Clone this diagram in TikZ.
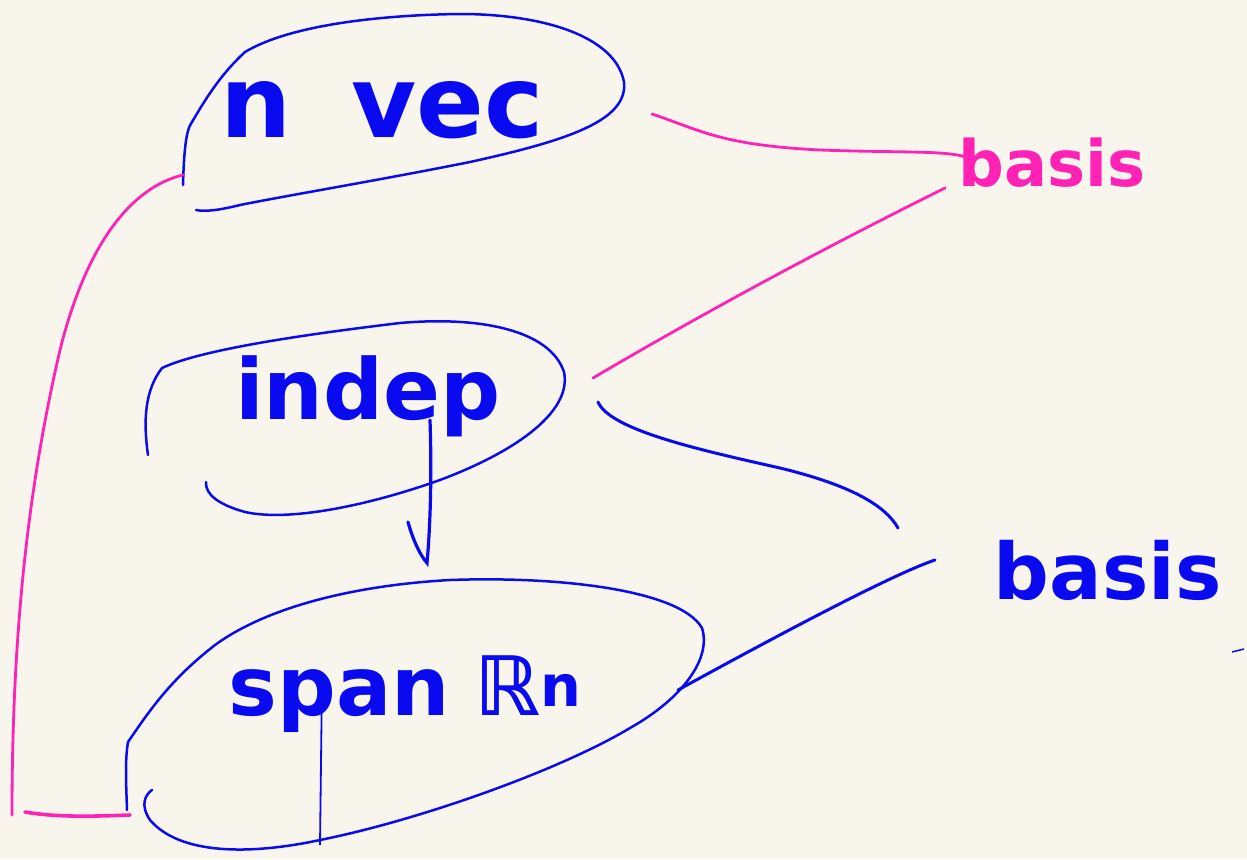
\documentclass[tikz,border=0pt]{standalone}
\usepackage{fontspec}
\setmainfont{DejaVu Sans}
\definecolor{paper}{HTML}{F8F6EC}
\definecolor{ink}{HTML}{0A0AF0}
\definecolor{pinkink}{HTML}{FF22B4}
\begin{document}
\begin{tikzpicture}[x=1pt,y=-1pt,
  loop/.style={draw=ink,line width=2.5pt,line cap=round,line join=round},
  bluelink/.style={draw=ink,line width=3pt,line cap=round},
  pinklink/.style={draw=pinkink,line width=2.8pt,line cap=round},
  word/.style={text=ink,font=\bfseries,inner sep=0pt,anchor=center},
  pinkword/.style={text=pinkink,font=\bfseries,inner sep=0pt,anchor=center}]
\fill[paper] (0,0) rectangle (1247,859);
\useasboundingbox (0,0) rectangle (1247,859);

% labels
\node[word,font=\bfseries\fontsize{100}{100}\selectfont] (nvec) at (382,110) {n\hspace{0.6em}vec};
\node[word,font=\bfseries\fontsize{84}{84}\selectfont] (indep) at (368,396) {indep};
\node[word,font=\bfseries\fontsize{82}{82}\selectfont] (span) at (405,694) {span\hspace{0.3em}ℝ\textsuperscript{n}};
\node[pinkword,font=\bfseries\fontsize{64}{64}\selectfont] (basisP) at (1052,163) {basis};
\node[word,font=\bfseries\fontsize{78}{78}\selectfont] (basisB) at (1108,570) {basis};

% loops
\path[loop] (183,185) .. controls (184,150) and (186,130) .. (192,122)
  .. controls (205,100) and (220,75) .. (245,52)
  .. controls (290,25) and (380,15) .. (460,14)
  .. controls (540,14) and (615,35) .. (624,82)
  .. controls (628,120) and (570,140) .. (470,162)
  .. controls (380,180) and (290,195) .. (240,205)
  .. controls (220,210) and (205,212) .. (196,210);
\path[loop] (148,455) .. controls (143,420) and (145,390) .. (162,368)
  .. controls (200,350) and (300,335) .. (400,323)
  .. controls (480,316) and (550,330) .. (564,372)
  .. controls (572,410) and (520,450) .. (440,480)
  .. controls (370,505) and (290,522) .. (245,512)
  .. controls (220,505) and (205,495) .. (206,482);
\path[loop] (127,810) .. controls (126,780) and (125,760) .. (128,742)
  .. controls (150,710) and (170,680) .. (215,645)
  .. controls (270,605) and (360,585) .. (450,580)
  .. controls (560,576) and (680,590) .. (702,628)
  .. controls (712,660) and (680,700) .. (630,728)
  .. controls (560,770) and (420,820) .. (320,840)
  .. controls (250,855) and (180,855) .. (150,820)
  .. controls (140,805) and (145,795) .. (152,790);
\draw[ink,line width=1.8pt] (322,680) -- (320,845);
% tail of the p in indep
\draw[ink,line width=3.2pt,line cap=round] (430,420) .. controls (432,480) and (430,530) .. (427,563)
  .. controls (420,555) and (413,540) .. (408,522);

% pink connectors
\coordinate (nvecR) at (652,114);
\coordinate (basisPL) at (968,158);
\coordinate (indepR) at (593,378);
\coordinate (basisPB) at (945,188);
\path[pinklink] (nvecR) .. controls (700,130) and (720,145) .. (820,150)
  .. controls (900,153) and (950,150) .. (basisPL);
\path[pinklink] (indepR) .. controls (700,315) and (820,250) .. (basisPB);
\coordinate (nvecL) at (183,175);
\coordinate (spanL) at (130,815);
\path[pinklink] (nvecL) .. controls (140,185) and (90,230) .. (60,350)
  .. controls (25,500) and (12,650) .. (12,815);
\path[pinklink,line width=3.6pt] (25,812) .. controls (60,818) and (100,816) .. (spanL);

% blue connectors
\coordinate (indepR2) at (598,402);
\coordinate (basisBL) at (898,528);
\coordinate (spanR) at (678,690);
\coordinate (basisBL2) at (935,560);
\path[bluelink] (indepR2) .. controls (610,430) and (700,450) .. (780,468)
  .. controls (850,485) and (885,505) .. (basisBL);
\path[bluelink] (spanR) .. controls (760,645) and (890,575) .. (basisBL2);
\draw[ink,line width=1.5pt] (1232,652) -- (1244,649);
\end{tikzpicture}
\end{document}
